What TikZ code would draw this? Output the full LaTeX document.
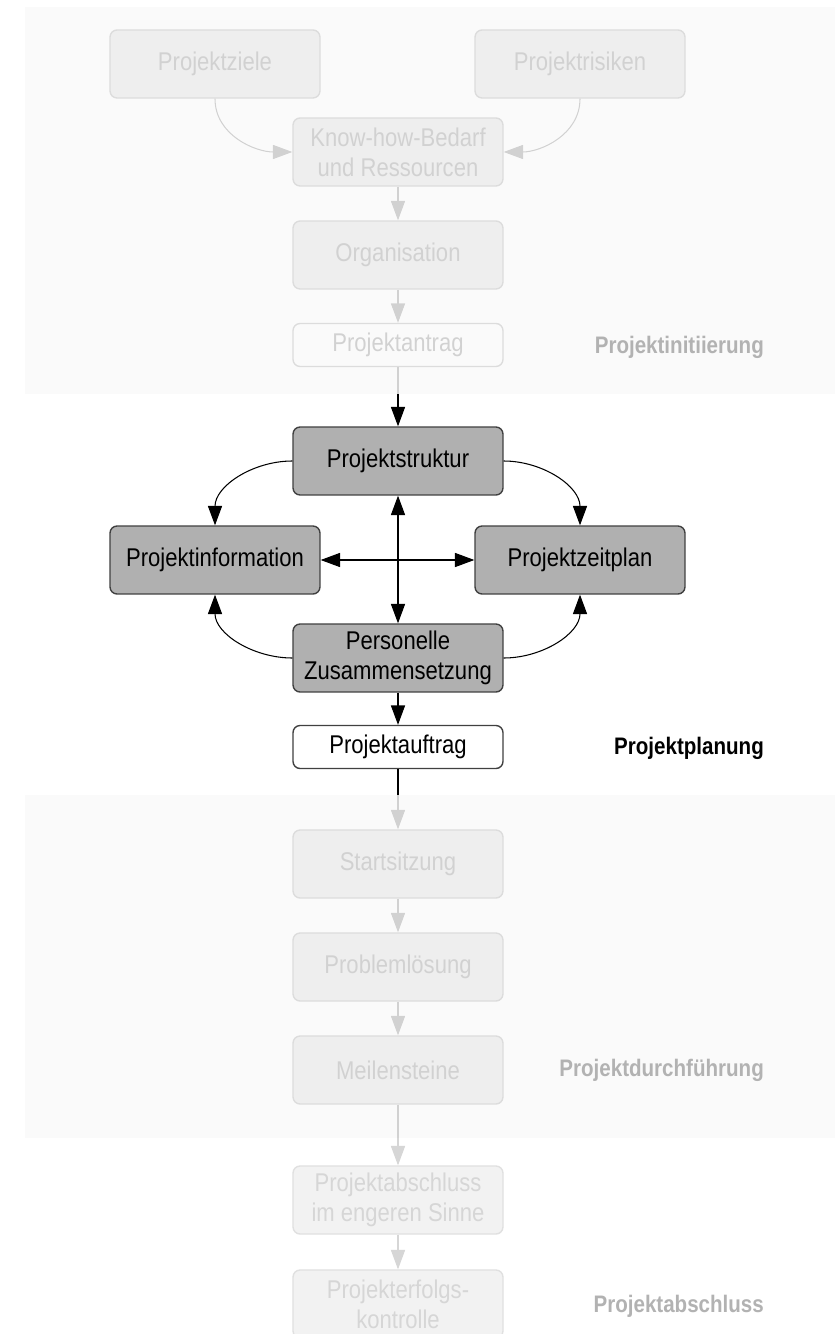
\documentclass[tikz,border=0pt]{standalone}
\usepackage{fontspec}
\setmainfont{Liberation Sans}[FakeStretch=0.86]
\usetikzlibrary{arrows.meta}
\tikzset{
    box/.style={draw=black!75, line width=0.8pt, fill=black!31, rounded corners=4pt,
        minimum width=4.2cm, minimum height=1.36cm, align=center,
        font=\fontsize{14.6}{17}\selectfont},
    flatbox/.style={box, fill=white, minimum height=0.86cm},
    conn/.style={line width=0.6pt},
    phase/.style={anchor=east, font=\fontsize{13.6}{16}\selectfont\bfseries},
    >={Triangle[length=11pt,width=8pt]}
}
\begin{document}
\begin{tikzpicture}[x=0.02cm, y=0.02cm]
            \useasboundingbox (0,0) rectangle (835,-1334);
            \fill[white] (0,0) rectangle (835,-1334);
            \node[box] (ziele) at (215,-64) {Projektziele};
            \node[box] (risiken) at (580,-64) {Projektrisiken};
            \node[box] (bedarf) at (398,-152) {Know-how-Bedarf\\und Ressourcen};
            \node[box] (orga) at (398,-255) {Organisation};
            \node[flatbox] (antrag) at (398,-345) {Projektantrag};
            \node[box] (struktur) at (398,-461) {Projektstruktur};
            \node[box] (info) at (215,-560) {Projektinformation};
            \node[box] (zeit) at (580,-560) {Projektzeitplan};
            \node[box] (personal) at (398,-658) {Personelle\\Zusammensetzung};
            \node[flatbox] (auftrag) at (398,-747) {Projektauftrag};
            \node[box] (start) at (398,-864) {Startsitzung};
            \node[box] (problem) at (398,-967) {Problemlösung};
            \node[box] (meilen) at (398,-1070) {Meilensteine};
            \node[box] (abschluss) at (398,-1200) {Projektabschluss\\im engeren Sinne};
            \node[box] (erfolg) at (398,-1304) {Projekterfolgs-\\kontrolle};
            \draw[conn, ->] (ziele.south) to[out=-90, in=180] (bedarf.west);
            \draw[conn, ->] (risiken.south) to[out=-90, in=0] (bedarf.east);
            \draw[conn, ->] (bedarf) -- (orga);
            \draw[conn, ->] (orga) -- (antrag);
            \draw[conn, ->] (antrag) -- (struktur);
            \draw[conn, ->] (struktur.west) to[out=180, in=90] (info.north);
            \draw[conn, ->] (struktur.east) to[out=0, in=90] (zeit.north);
            \draw[conn, ->] (personal.west) to[out=180, in=-90] (info.south);
            \draw[conn, ->] (personal.east) to[out=0, in=-90] (zeit.south);
            \draw[conn, <->] (struktur) -- (personal);
            \draw[conn, <->] (info) -- (zeit);
            \draw[conn, ->] (personal) -- (auftrag);
            \draw[conn, ->] (auftrag) -- (start);
            \draw[conn, ->] (start) -- (problem);
            \draw[conn, ->] (problem) -- (meilen);
            \draw[conn, ->] (meilen) -- (abschluss);
            \draw[conn, ->] (abschluss) -- (erfolg);
            % faded phases
            \fill[black!2, opacity=.84] (25,-7) rectangle (835,-394);
            \fill[black!2, opacity=.84] (25,-795) rectangle (835,-1138);
            \fill[white, opacity=.84] (0,-1138) rectangle (835,-1334);
            \node[phase, text=black!30] (initiierung) at (770,-347) {Projektinitiierung};
            \node[phase] (planung) at (770,-748) {Projektplanung};
            \node[phase, text=black!30] (durchfuehrung) at (770,-1070) {Projektdurchführung};
            \node[phase, text=black!30] (abschlussphase) at (770,-1306) {Projektabschluss};
        \end{tikzpicture}
\end{document}
